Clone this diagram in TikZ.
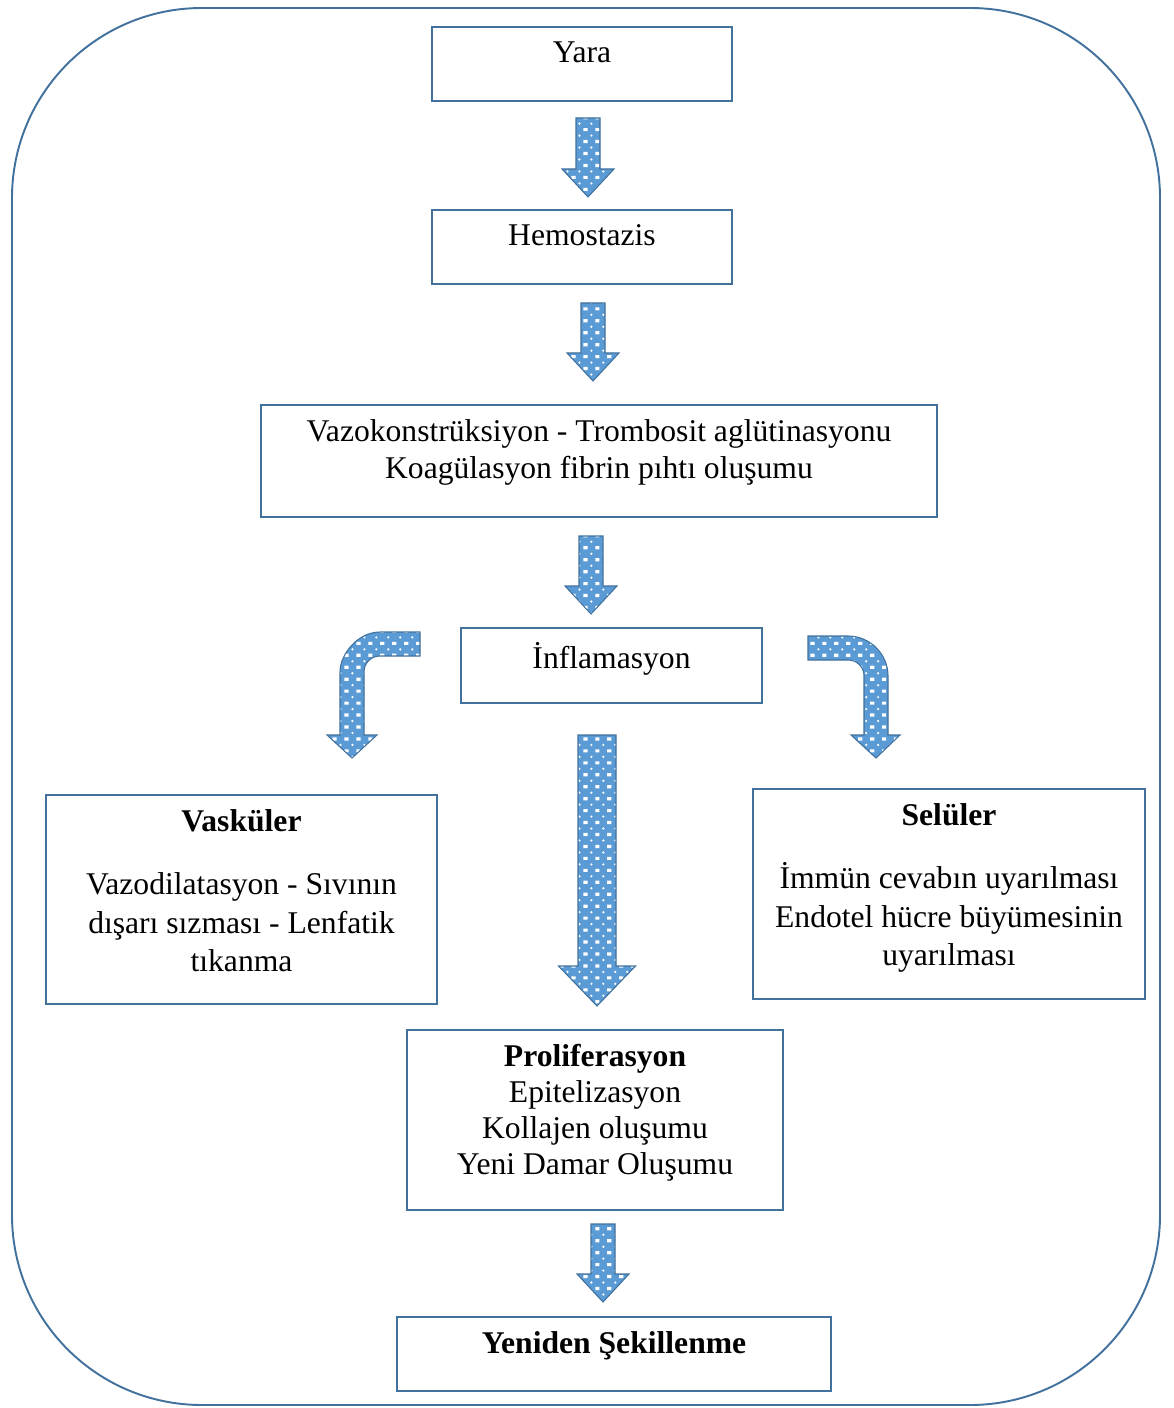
\documentclass[tikz,border=0pt]{standalone}
\usepackage{fontspec}
\setmainfont{Liberation Serif}
\usetikzlibrary{patterns}
\usepackage{xcolor}

\definecolor{boxline}{HTML}{41719C}
\definecolor{arrowblue}{HTML}{5B9BD5}

% white dots on the block arrows
\pgfdeclarepatternformonly{wdots}{\pgfqpoint{-1.5pt}{-1.5pt}}{\pgfqpoint{5.3pt}{5.3pt}}{\pgfqpoint{6.8pt}{6.8pt}}{%
  \pgfpathrectangle{\pgfqpoint{-1.2pt}{-0.9pt}}{\pgfqpoint{2.4pt}{1.8pt}}%
  \pgfpathcircle{\pgfqpoint{3.4pt}{3.4pt}}{0.7pt}%
  \pgfusepath{fill}}

% x, top, bottom, half shaft, half head, head length
\newcommand{\blockdown}[6]{%
  \draw[barrow] ({#1-#4},#2) -- ({#1+#4},#2) -- ({#1+#4},{#3-#6}) -- ({#1+#5},{#3-#6})
    -- (#1,#3) -- ({#1-#5},{#3-#6}) -- ({#1-#4},{#3-#6}) -- cycle;}

\begin{document}
\begin{tikzpicture}[
  x=0.02cm, y=-0.02cm,
  box/.style={draw=boxline, line width=1.1pt, inner sep=0pt},
  txt/.style={anchor=north, align=center, inner sep=0pt, yshift=-0.3cm, font=\fontsize{18}{21}\selectfont},
  barrow/.style={draw=boxline, line width=0.6pt, preaction={fill=arrowblue}, pattern=wdots, pattern color=white}
]
  \useasboundingbox (0,0) rectangle (1173,1408);
  \draw[boxline, line width=1.1pt, rounded corners=3.8cm] (12,8) rectangle (1160,1405);

  \node[box, minimum width=6cm, minimum height=1.48cm, label={[txt]north:Yara}] (yara) at (582,64) {};
  \node[box, minimum width=6cm, minimum height=1.48cm, label={[txt]north:Hemostazis}] (hemo) at (582,247) {};
  \node[box, minimum width=13.52cm, minimum height=2.24cm,
    label={[txt]north:{Vazokonstrüksiyon - Trombosit aglütinasyonu\\Koagülasyon fibrin pıhtı oluşumu}}] (vazo) at (599,461) {};
  \node[box, minimum width=6.02cm, minimum height=1.5cm, label={[txt]north:İnflamasyon}] (infl) at (611.5,665.5) {};
  \node[box, minimum width=7.82cm, minimum height=4.18cm,
    label={[txt, font=\fontsize{18}{22}\selectfont]north:{\textbf{Vasküler}\\[14pt]Vazodilatasyon - Sıvının\\dışarı sızması - Lenfatik\\tıkanma}}] (vask) at (241.5,899.5) {};
  \node[box, minimum width=7.84cm, minimum height=4.2cm,
    label={[txt, font=\fontsize{18}{22}\selectfont]north:{\textbf{Selüler}\\[14pt]İmmün cevabın uyarılması\\Endotel hücre büyümesinin\\uyarılması}}] (selu) at (949,894) {};
  \node[box, minimum width=7.52cm, minimum height=3.6cm,
    label={[txt, font=\fontsize{18}{20.5}\selectfont]north:{\textbf{Proliferasyon}\\Epitelizasyon\\Kollajen oluşumu\\Yeni Damar Oluşumu}}] (prol) at (595,1120) {};
  \node[box, minimum width=8.68cm, minimum height=1.48cm, label={[txt]north:\textbf{Yeniden Şekillenme}}] (yeni) at (614,1354) {};

  \blockdown{588}{118}{197}{12}{26}{28}
  \blockdown{593}{303}{381}{12}{26}{28}
  \blockdown{591}{536}{614}{12}{26}{28}
  \blockdown{597}{735}{1006}{19}{38.5}{40}
  \blockdown{603}{1224}{1302}{12}{26}{28}

  % bent arrows beside Inflamasyon
  \draw[barrow] (420,632) -- (380,632) .. controls (358,632) and (340,654) .. (340,672) -- (340,735)
    -- (327,735) -- (352,758) -- (377,735) -- (364,735) -- (364,672)
    .. controls (364,663) and (371,656) .. (380,656) -- (420,656) -- cycle;
  \draw[barrow] (808,636) -- (848,636) .. controls (870,636) and (888,654) .. (888,676) -- (888,735)
    -- (900,735) -- (876,758) -- (851,735) -- (864,735) -- (864,676)
    .. controls (864,667) and (857,660) .. (848,660) -- (808,660) -- cycle;
\end{tikzpicture}
\end{document}
